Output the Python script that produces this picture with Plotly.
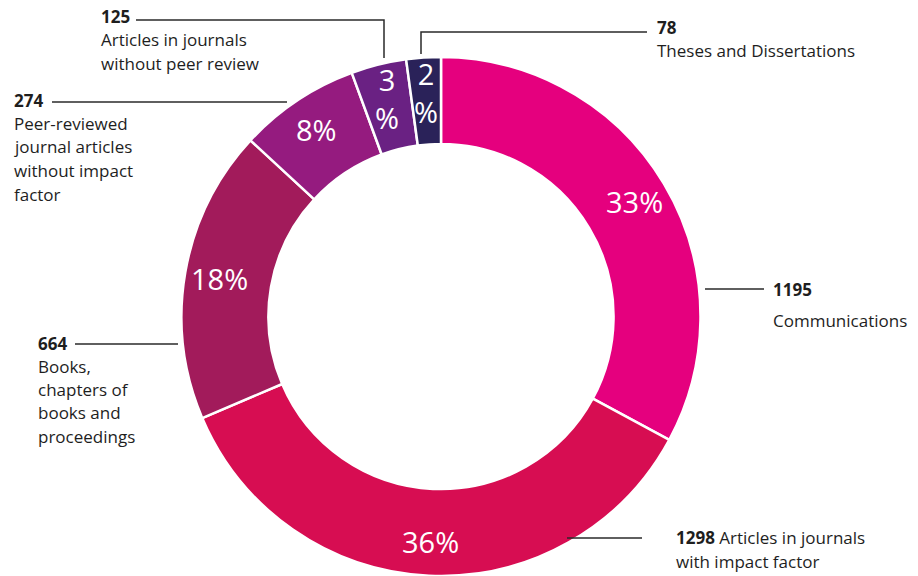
import math
import plotly.graph_objects as go

# Publications by type
categories = [
    "Communications",
    "Articles in journals with impact factor",
    "Books, chapters of books and proceedings",
    "Peer-reviewed journal articles without impact factor",
    "Articles in journals without peer review",
    "Theses and Dissertations",
]
counts = [1195, 1298, 664, 274, 125, 78]
colors = ["#E5007E", "#D70D52", "#A21B5B", "#951B7F", "#6A2183", "#2A2259"]

W, H = 918, 576
CX, CY, R = 441, 317, 260      # ring centre and outer radius (px)
HOLE = 0.665
TEXT_R = 225                   # radius of the percentage labels (px)
INK = "#1e1e1e"
FONT = "Open Sans"


def px(x):
    return x / W


def py(y):
    return 1 - y / H


fig = go.Figure(
    go.Pie(
        labels=categories,
        values=counts,
        sort=False,
        direction="clockwise",
        rotation=0,
        hole=HOLE,
        marker=dict(colors=colors, line=dict(color="white", width=2.5)),
        textinfo="none",
        hoverinfo="label+value+percent",
        domain=dict(x=[px(CX - R), px(CX + R)], y=[max(0, py(CY + R)), py(CY - R)]),
        showlegend=False,
    )
)

annotations = []

# Percentages placed at the middle angle of each slice
total = sum(counts)
cum = 0
for v in counts:
    frac = v / total
    mid = (cum + frac / 2) * 2 * math.pi
    cum += frac
    pct = round(frac * 100)
    label = f"{pct}%" if frac > 0.05 else f"{pct}<br>%"
    x = CX + TEXT_R * math.sin(mid)
    y = CY - TEXT_R * math.cos(mid)
    annotations.append(dict(
        x=px(x), y=py(y), xref="paper", yref="paper", text=label,
        showarrow=False, xanchor="center", yanchor="middle",
        font=dict(family=FONT, size=29, color="white"),
    ))

# Outside labels: (count, lines of text, left x, y of first line, line gaps)
callouts = [
    (counts[4], ["Articles in journals", "without peer review"], 99, 17, [23, 23]),
    (counts[5], ["Theses and Dissertations"], 655, 27, [23]),
    (counts[3], ["Peer-reviewed", "journal articles", "without impact", "factor"], 12, 100, [23.5] * 4),
    (counts[0], ["Communications"], 771, 289, [31]),
    (counts[2], ["Books,", "chapters of", "books and", "proceedings"], 36, 343, [23.3] * 4),
]
for n, lines, x0, y0, gaps in callouts:
    annotations.append(dict(
        x=px(x0), y=py(y0), xref="paper", yref="paper", text=f"<b>{n}</b>",
        showarrow=False, xanchor="left", yanchor="middle",
        font=dict(family=FONT, size=17, color=INK),
    ))
    y = y0
    for line, g in zip(lines, gaps):
        y += g
        annotations.append(dict(
            x=px(x0), y=py(y), xref="paper", yref="paper", text=line,
            showarrow=False, xanchor="left", yanchor="middle",
            font=dict(family=FONT, size=17, color=INK),
        ))

annotations.append(dict(
    x=px(674), y=py(537), xref="paper", yref="paper",
    text=f"<b>{counts[1]}</b> Articles in journals",
    showarrow=False, xanchor="left", yanchor="middle",
    font=dict(family=FONT, size=17, color=INK),
))
annotations.append(dict(
    x=px(674), y=py(561), xref="paper", yref="paper", text="with impact factor",
    showarrow=False, xanchor="left", yanchor="middle",
    font=dict(family=FONT, size=17, color=INK),
))

# Leader lines (px coordinates)
leaders = [
    [(136, 20), (384, 20), (384, 58)],
    [(647, 32), (421, 32), (421, 54)],
    [(52, 102), (287, 102)],
    [(705, 289), (764, 289)],
    [(75, 344), (178, 344)],
    [(567, 538), (642, 538)],
]
shapes = []
for pts in leaders:
    path = "M " + " L ".join(f"{px(x)},{py(y)}" for x, y in pts)
    shapes.append(dict(type="path", xref="paper", yref="paper", path=path,
                       line=dict(color="#2a2a2a", width=1.5)))

fig.update_layout(
    width=W, height=H,
    margin=dict(l=0, r=0, t=0, b=0),
    paper_bgcolor="white", plot_bgcolor="white",
    annotations=annotations, shapes=shapes,
    font=dict(family=FONT),
)

fig.write_html("out.html")
